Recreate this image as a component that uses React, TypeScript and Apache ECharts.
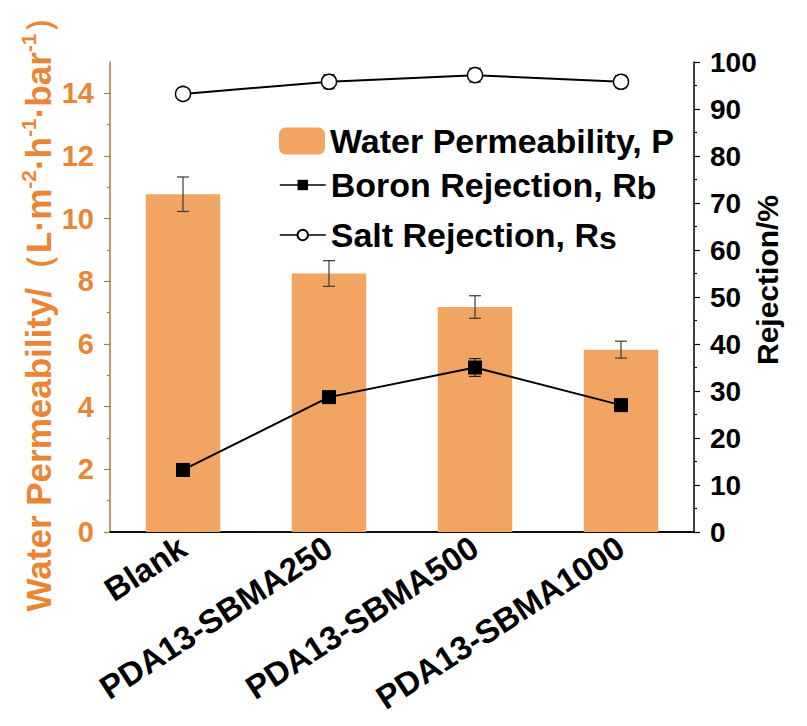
import React, { useEffect, useRef } from "react";
import * as echarts from "echarts";

const categories = ["Blank", "PDA13-SBMA250", "PDA13-SBMA500", "PDA13-SBMA1000"];
const permeability = [10.78, 8.25, 7.18, 5.82];
const permeabilityErr = [0.55, 0.41, 0.36, 0.27];
const boron = [13.2, 28.7, 35.0, 27.0];
const boronErr = [1.2, 1.2, 1.9, 1.0];
const salt = [93.2, 95.8, 97.2, 95.8];
const saltErr = [1.2, 1.5, 1.5, 1.3];
const leftTicks = [0, 2, 4, 6, 8, 10, 12, 14];
const leftMinorTicks = [1, 3, 5, 7, 9, 11, 13];

const SERIES_P = "Water Permeability, P";
const SERIES_B = "Boron Rejection, Rb";
const SERIES_S = "Salt Rejection, Rs";

const FONT = "Liberation Sans, Arial, Helvetica, sans-serif";
const ORANGE_TEXT = "#EC8533";
const ORANGE_AXIS = "#B9773A";
const BAR_COLOR = "#F2A563";

function errorData(values: number[], errs: number[]) {
  return values.map((v, i) => [i, v - errs[i], v + errs[i]]);
}

function makeErrorRender(color: string, half: number) {
  return (params: any, api: any) => {
    const x = api.value(0);
    const lo = api.coord([x, api.value(1)]);
    const hi = api.coord([x, api.value(2)]);
    const style = { stroke: color, lineWidth: 1.2 };
    return {
      type: "group",
      children: [
        { type: "line", shape: { x1: hi[0], y1: hi[1], x2: lo[0], y2: lo[1] }, style },
        { type: "line", shape: { x1: hi[0] - half, y1: hi[1], x2: hi[0] + half, y2: hi[1] }, style },
        { type: "line", shape: { x1: lo[0] - half, y1: lo[1], x2: lo[0] + half, y2: lo[1] }, style },
      ],
    };
  };
}

export default function App() {
  const ref = useRef<HTMLDivElement>(null);
  useEffect(() => {
    if (!ref.current) return;
    const chart = echarts.init(ref.current, null, { renderer: "svg" });
    const legendRich = {
      m: { fontSize: 34, fontWeight: "bold", color: "#000", fontFamily: FONT, lineHeight: 38 },
      s: { fontSize: 32, fontWeight: "bold", color: "#000", fontFamily: FONT, lineHeight: 22, verticalAlign: "bottom" },
    };
    const option: any = {
      animation: false,
      backgroundColor: "#fff",
      grid: { left: 110, right: 113, top: 62, bottom: 194, outerBoundsMode: "none", containLabel: false },
      legend: [
        {
          data: [SERIES_P],
          left: 274,
          top: 119,
          itemWidth: 46,
          itemHeight: 27,
          selectedMode: false,
          textStyle: { fontSize: 34, fontWeight: "bold", color: "#000", fontFamily: FONT, rich: legendRich },
          formatter: (n: string) => `{m|${n}}`,
        },
        {
          data: [SERIES_B, SERIES_S],
          orient: "vertical",
          left: 274,
          top: 163,
          itemWidth: 46,
          itemHeight: 13,
          itemGap: 14,
          selectedMode: false,
          lineStyle: { width: 1.5 },
          textStyle: { fontSize: 34, fontWeight: "bold", color: "#000", fontFamily: FONT, rich: legendRich },
          formatter: (n: string) => `{m|${n.slice(0, -1)}}{s|${n.slice(-1)}}`,
        },
      ],
      xAxis: [
        {
          type: "category",
          data: categories,
          position: "bottom",
          axisLine: { lineStyle: { color: "#000", width: 1.5 } },
          axisTick: { alignWithLabel: true, length: 6, lineStyle: { color: "#000", width: 1.2 } },
          axisLabel: {
            rotate: 33,
            margin: 12,
            color: "#000",
            fontSize: 33,
            fontWeight: "bold",
            fontFamily: FONT,
          },
          splitLine: { show: false },
        },
        {
          type: "category",
          data: categories,
          position: "bottom",
          axisLine: { show: false },
          axisTick: { alignWithLabel: false, length: 3, lineStyle: { color: "#000", width: 1.2 } },
          axisLabel: { show: false },
          splitLine: { show: false },
        },
        {
          type: "category",
          data: categories,
          position: "top",
          axisLine: { lineStyle: { color: "#000", width: 1.5 } },
          axisTick: { show: false },
          axisLabel: { show: false },
          splitLine: { show: false },
        },
      ],
      yAxis: [
        {
          type: "value",
          min: 0,
          max: 15,
          interval: 2,
          position: "left",
          name:
            "{m|Water Permeability/（L·m}{p|-2}{m|·h}{p|-1}{m|·bar}{p|-1}{m|）}",
          nameLocation: "middle",
          nameRotate: 90,
          nameGap: 52,
          nameMoveOverlap: false,
          nameTextStyle: {
            color: ORANGE_TEXT,
            fontSize: 35,
            fontWeight: "bold",
            fontFamily: FONT,
            padding: [0, 16, 0, 0],
            rich: {
              m: { fontSize: 35, fontWeight: "bold", color: ORANGE_TEXT, fontFamily: FONT, lineHeight: 40 },
              p: { fontSize: 21, fontWeight: "bold", color: ORANGE_TEXT, fontFamily: FONT, lineHeight: 22, verticalAlign: "top" },
            },
          },
          axisLine: { show: true, lineStyle: { color: ORANGE_AXIS, width: 1.5 } },
          axisTick: { show: true, length: 6, customValues: leftTicks, lineStyle: { color: ORANGE_AXIS, width: 1.2 } },
          axisLabel: {
            customValues: leftTicks,
            margin: 16,
            color: ORANGE_TEXT,
            fontSize: 29,
            fontWeight: "bold",
            fontFamily: FONT,
          },
          splitLine: { show: false },
        },
        {
          type: "value",
          min: 0,
          max: 100,
          interval: 10,
          position: "right",
          name: "Rejection/%",
          nameLocation: "middle",
          nameRotate: 90,
          nameGap: 58,
          nameMoveOverlap: false,
          nameTextStyle: {
            color: "#000",
            fontSize: 30,
            fontWeight: "bold",
            fontFamily: FONT,
            padding: [0, 0, 0, 34],
          },
          axisLine: { show: true, lineStyle: { color: "#000", width: 1.5 } },
          axisTick: { show: true, length: 6, lineStyle: { color: "#000", width: 1.2 } },
          minorTick: { show: true, splitNumber: 2, length: 3, lineStyle: { color: "#000", width: 1.2 } },
          axisLabel: {
            margin: 16,
            color: "#000",
            fontSize: 28,
            fontWeight: "bold",
            fontFamily: FONT,
          },
          splitLine: { show: false },
          minorSplitLine: { show: false },
        },
        {
          type: "value",
          min: 0,
          max: 15,
          interval: 1,
          position: "left",
          axisLine: { show: false },
          axisTick: { show: true, length: 3, customValues: leftMinorTicks, lineStyle: { color: ORANGE_AXIS, width: 1.2 } },
          axisLabel: { show: false },
          splitLine: { show: false },
        },
      ],
      series: [
        {
          type: "bar",
          name: SERIES_P,
          data: permeability,
          xAxisIndex: 0,
          yAxisIndex: 0,
          barWidth: "51%",
          itemStyle: { color: BAR_COLOR },
          z: 2,
        },
        {
          type: "custom",
          name: "P error",
          xAxisIndex: 0,
          yAxisIndex: 0,
          data: errorData(permeability, permeabilityErr),
          encode: { x: 0, y: [1, 2] },
          renderItem: makeErrorRender("#3a3a3a", 6),
          z: 3,
        },
        {
          type: "custom",
          name: "B error",
          xAxisIndex: 0,
          yAxisIndex: 1,
          data: errorData(boron, boronErr),
          encode: { x: 0, y: [1, 2] },
          renderItem: makeErrorRender("#222", 6),
          z: 4,
        },
        {
          type: "custom",
          name: "S error",
          xAxisIndex: 0,
          yAxisIndex: 1,
          data: errorData(salt, saltErr),
          encode: { x: 0, y: [1, 2] },
          renderItem: makeErrorRender("#555", 6),
          z: 4,
        },
        {
          type: "line",
          name: SERIES_B,
          data: boron,
          xAxisIndex: 0,
          yAxisIndex: 1,
          symbol: "rect",
          symbolSize: 14,
          itemStyle: { color: "#000" },
          lineStyle: { color: "#000", width: 2 },
          z: 6,
        },
        {
          type: "line",
          name: SERIES_S,
          data: salt,
          xAxisIndex: 0,
          yAxisIndex: 1,
          symbol: "circle",
          symbolSize: 15,
          itemStyle: { color: "#fff", borderColor: "#000", borderWidth: 1.5 },
          lineStyle: { color: "#000", width: 2 },
          z: 6,
        },
      ],
    };
    chart.setOption(option);
    return () => chart.dispose();
  }, []);
  return (
    <div
      ref={ref}
      style={{ position: "fixed", left: 0, top: 0, width: 807, height: 726, background: "#fff" }}
    />
  );
}
